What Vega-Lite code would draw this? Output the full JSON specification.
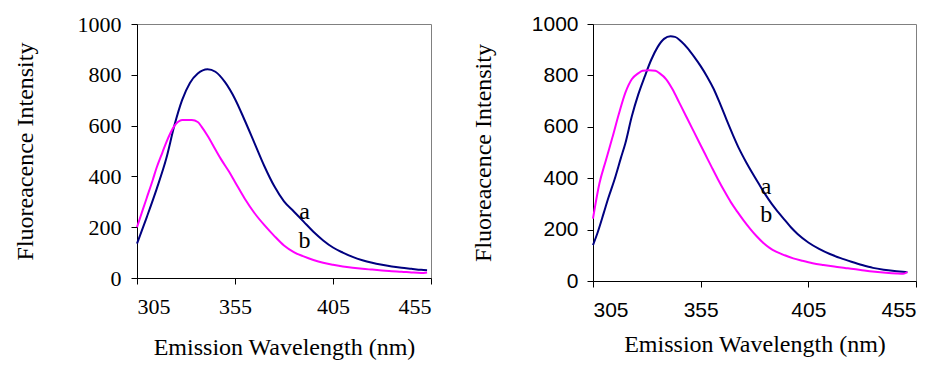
{
  "$schema": "https://vega.github.io/schema/vega-lite/v6.json",
  "background": "white",
  "padding": {"left": 12, "top": 12, "right": 0, "bottom": 0},
  "spacing": 162,
  "bounds": "flush",
  "config": {
    "view": {"stroke": "#808080", "strokeWidth": 1},
    "axis": {"grid": false, "domainColor": "#000000", "tickColor": "#000000", "labelColor": "#000000", "titleColor": "#000000", "tickSize": 6, "titleFontWeight": "normal", "titleFont": "Liberation Serif", "titleFontSize": 24, "format": "d"}
  },
  "datasets": {
    "left": [
      {"series": "a", "wl": 305, "v": 135}, {"series": "a", "wl": 310, "v": 240}, {"series": "a", "wl": 315, "v": 350}, {"series": "a", "wl": 320, "v": 472},
      {"series": "a", "wl": 324, "v": 598}, {"series": "a", "wl": 328, "v": 700}, {"series": "a", "wl": 332, "v": 768}, {"series": "a", "wl": 336, "v": 805},
      {"series": "a", "wl": 341, "v": 822}, {"series": "a", "wl": 345, "v": 812}, {"series": "a", "wl": 350, "v": 770}, {"series": "a", "wl": 355, "v": 705},
      {"series": "a", "wl": 360, "v": 620}, {"series": "a", "wl": 365, "v": 530}, {"series": "a", "wl": 370, "v": 440}, {"series": "a", "wl": 375, "v": 362},
      {"series": "a", "wl": 380, "v": 302}, {"series": "a", "wl": 385, "v": 262}, {"series": "a", "wl": 390, "v": 222}, {"series": "a", "wl": 395, "v": 182},
      {"series": "a", "wl": 400, "v": 148}, {"series": "a", "wl": 405, "v": 120}, {"series": "a", "wl": 410, "v": 100}, {"series": "a", "wl": 415, "v": 83},
      {"series": "a", "wl": 420, "v": 70}, {"series": "a", "wl": 425, "v": 60}, {"series": "a", "wl": 430, "v": 52}, {"series": "a", "wl": 435, "v": 45},
      {"series": "a", "wl": 440, "v": 40}, {"series": "a", "wl": 445, "v": 36}, {"series": "a", "wl": 450, "v": 32}, {"series": "a", "wl": 453, "v": 31},
      {"series": "b", "wl": 305, "v": 200}, {"series": "b", "wl": 308, "v": 270}, {"series": "b", "wl": 310, "v": 316}, {"series": "b", "wl": 313, "v": 385},
      {"series": "b", "wl": 315, "v": 434}, {"series": "b", "wl": 318, "v": 495}, {"series": "b", "wl": 320, "v": 535}, {"series": "b", "wl": 322, "v": 570},
      {"series": "b", "wl": 324, "v": 598}, {"series": "b", "wl": 326, "v": 615}, {"series": "b", "wl": 328, "v": 622}, {"series": "b", "wl": 333, "v": 622},
      {"series": "b", "wl": 336, "v": 614}, {"series": "b", "wl": 338, "v": 595}, {"series": "b", "wl": 341, "v": 560}, {"series": "b", "wl": 345, "v": 506},
      {"series": "b", "wl": 348, "v": 466}, {"series": "b", "wl": 352, "v": 418}, {"series": "b", "wl": 355, "v": 378}, {"series": "b", "wl": 360, "v": 312},
      {"series": "b", "wl": 365, "v": 255}, {"series": "b", "wl": 370, "v": 208}, {"series": "b", "wl": 375, "v": 166}, {"series": "b", "wl": 380, "v": 128},
      {"series": "b", "wl": 385, "v": 102}, {"series": "b", "wl": 390, "v": 85}, {"series": "b", "wl": 395, "v": 71}, {"series": "b", "wl": 400, "v": 60},
      {"series": "b", "wl": 405, "v": 52}, {"series": "b", "wl": 410, "v": 45}, {"series": "b", "wl": 415, "v": 40}, {"series": "b", "wl": 420, "v": 36},
      {"series": "b", "wl": 425, "v": 33}, {"series": "b", "wl": 430, "v": 30}, {"series": "b", "wl": 435, "v": 27}, {"series": "b", "wl": 440, "v": 25},
      {"series": "b", "wl": 445, "v": 22}, {"series": "b", "wl": 450, "v": 20}, {"series": "b", "wl": 453, "v": 22}
    ],
    "right": [
      {"series": "a", "wl": 305, "v": 140}, {"series": "a", "wl": 307, "v": 185}, {"series": "a", "wl": 310, "v": 265}, {"series": "a", "wl": 312, "v": 320},
      {"series": "a", "wl": 315, "v": 395}, {"series": "a", "wl": 318, "v": 480}, {"series": "a", "wl": 320, "v": 535}, {"series": "a", "wl": 323, "v": 640},
      {"series": "a", "wl": 326, "v": 725}, {"series": "a", "wl": 329, "v": 795}, {"series": "a", "wl": 332, "v": 860}, {"series": "a", "wl": 335, "v": 910},
      {"series": "a", "wl": 338, "v": 942}, {"series": "a", "wl": 341, "v": 952}, {"series": "a", "wl": 343, "v": 950}, {"series": "a", "wl": 346, "v": 932},
      {"series": "a", "wl": 349, "v": 905}, {"series": "a", "wl": 352, "v": 872}, {"series": "a", "wl": 355, "v": 836}, {"series": "a", "wl": 358, "v": 795},
      {"series": "a", "wl": 361, "v": 748}, {"series": "a", "wl": 364, "v": 690}, {"series": "a", "wl": 367, "v": 628}, {"series": "a", "wl": 370, "v": 568},
      {"series": "a", "wl": 373, "v": 512}, {"series": "a", "wl": 376, "v": 464}, {"series": "a", "wl": 379, "v": 420}, {"series": "a", "wl": 382, "v": 378},
      {"series": "a", "wl": 385, "v": 337}, {"series": "a", "wl": 388, "v": 300}, {"series": "a", "wl": 391, "v": 268}, {"series": "a", "wl": 394, "v": 238},
      {"series": "a", "wl": 397, "v": 208}, {"series": "a", "wl": 400, "v": 183}, {"series": "a", "wl": 405, "v": 150}, {"series": "a", "wl": 410, "v": 125},
      {"series": "a", "wl": 415, "v": 105}, {"series": "a", "wl": 420, "v": 89}, {"series": "a", "wl": 425, "v": 75}, {"series": "a", "wl": 430, "v": 62},
      {"series": "a", "wl": 435, "v": 51}, {"series": "a", "wl": 440, "v": 44}, {"series": "a", "wl": 445, "v": 39}, {"series": "a", "wl": 450, "v": 35},
      {"series": "a", "wl": 451, "v": 34},
      {"series": "b", "wl": 305, "v": 243}, {"series": "b", "wl": 308, "v": 380}, {"series": "b", "wl": 311, "v": 470}, {"series": "b", "wl": 314, "v": 558},
      {"series": "b", "wl": 317, "v": 650}, {"series": "b", "wl": 320, "v": 732}, {"series": "b", "wl": 323, "v": 785}, {"series": "b", "wl": 326, "v": 808},
      {"series": "b", "wl": 328, "v": 818}, {"series": "b", "wl": 331, "v": 820}, {"series": "b", "wl": 334, "v": 818}, {"series": "b", "wl": 336, "v": 808},
      {"series": "b", "wl": 339, "v": 785}, {"series": "b", "wl": 342, "v": 745}, {"series": "b", "wl": 345, "v": 695}, {"series": "b", "wl": 348, "v": 645},
      {"series": "b", "wl": 351, "v": 595}, {"series": "b", "wl": 354, "v": 545}, {"series": "b", "wl": 357, "v": 495}, {"series": "b", "wl": 360, "v": 445},
      {"series": "b", "wl": 363, "v": 396}, {"series": "b", "wl": 366, "v": 350}, {"series": "b", "wl": 369, "v": 307}, {"series": "b", "wl": 372, "v": 270},
      {"series": "b", "wl": 375, "v": 235}, {"series": "b", "wl": 378, "v": 203}, {"series": "b", "wl": 381, "v": 174}, {"series": "b", "wl": 384, "v": 149},
      {"series": "b", "wl": 387, "v": 129}, {"series": "b", "wl": 390, "v": 114}, {"series": "b", "wl": 394, "v": 100}, {"series": "b", "wl": 398, "v": 88},
      {"series": "b", "wl": 402, "v": 79}, {"series": "b", "wl": 407, "v": 69}, {"series": "b", "wl": 412, "v": 62}, {"series": "b", "wl": 417, "v": 56},
      {"series": "b", "wl": 422, "v": 51}, {"series": "b", "wl": 426, "v": 47}, {"series": "b", "wl": 431, "v": 41}, {"series": "b", "wl": 436, "v": 36},
      {"series": "b", "wl": 441, "v": 32}, {"series": "b", "wl": 446, "v": 29}, {"series": "b", "wl": 449, "v": 28}, {"series": "b", "wl": 451, "v": 35}
    ],
    "leftLabels": [
      {"label": "a", "wl": 390.5, "v": 232},
      {"label": "b", "wl": 390.5, "v": 118}
    ],
    "rightLabels": [
      {"label": "a", "wl": 385.4, "v": 338},
      {"label": "b", "wl": 385.4, "v": 230}
    ]
  },
  "hconcat": [
    {
      "width": 294,
      "height": 254,
      "layer": [
        {
          "data": {"name": "left"},
          "mark": {"type": "line", "strokeWidth": 2, "interpolate": "monotone"},
          "encoding": {
            "x": {"field": "wl", "type": "quantitative", "scale": {"domain": [305, 455], "nice": false, "zero": false},
              "axis": {"values": [305, 355, 405, 455], "title": "Emission Wavelength (nm)", "labelFont": "Liberation Serif", "labelFontSize": 22, "labelPadding": 12, "titlePadding": 18}},
            "y": {"field": "v", "type": "quantitative", "scale": {"domain": [0, 1000], "nice": false},
              "axis": {"values": [0, 200, 400, 600, 800, 1000], "title": "Fluoreacence Intensity", "labelFont": "Liberation Serif", "labelFontSize": 22, "labelPadding": 10, "titlePadding": 40}},
            "color": {"field": "series", "type": "nominal", "scale": {"domain": ["a", "b"], "range": ["#000080", "#FF00FF"]}, "legend": null}
          }
        },
        {
          "data": {"name": "leftLabels"},
          "mark": {"type": "text", "font": "Liberation Serif", "fontSize": 24, "baseline": "alphabetic", "align": "center", "color": "#000000"},
          "encoding": {
            "x": {"field": "wl", "type": "quantitative"},
            "y": {"field": "v", "type": "quantitative"},
            "text": {"field": "label"}
          }
        }
      ]
    },
    {
      "width": 323,
      "height": 257,
      "layer": [
        {
          "data": {"name": "right"},
          "mark": {"type": "line", "strokeWidth": 2, "interpolate": "monotone"},
          "encoding": {
            "x": {"field": "wl", "type": "quantitative", "scale": {"domain": [305, 455], "nice": false, "zero": false},
              "axis": {"values": [305, 355, 405, 455], "title": "Emission Wavelength (nm)", "labelFont": "Liberation Sans", "labelFontSize": 21, "labelPadding": 12, "titlePadding": 12}},
            "y": {"field": "v", "type": "quantitative", "scale": {"domain": [0, 1000], "nice": false},
              "axis": {"values": [0, 200, 400, 600, 800, 1000], "title": "Fluoreacence Intensity", "labelFont": "Liberation Sans", "labelFontSize": 21, "labelPadding": 9, "titlePadding": 36}},
            "color": {"field": "series", "type": "nominal", "scale": {"domain": ["a", "b"], "range": ["#000080", "#FF00FF"]}, "legend": null}
          }
        },
        {
          "data": {"name": "rightLabels"},
          "mark": {"type": "text", "font": "Liberation Serif", "fontSize": 24, "baseline": "alphabetic", "align": "center", "color": "#000000"},
          "encoding": {
            "x": {"field": "wl", "type": "quantitative"},
            "y": {"field": "v", "type": "quantitative"},
            "text": {"field": "label"}
          }
        }
      ]
    }
  ]
}
